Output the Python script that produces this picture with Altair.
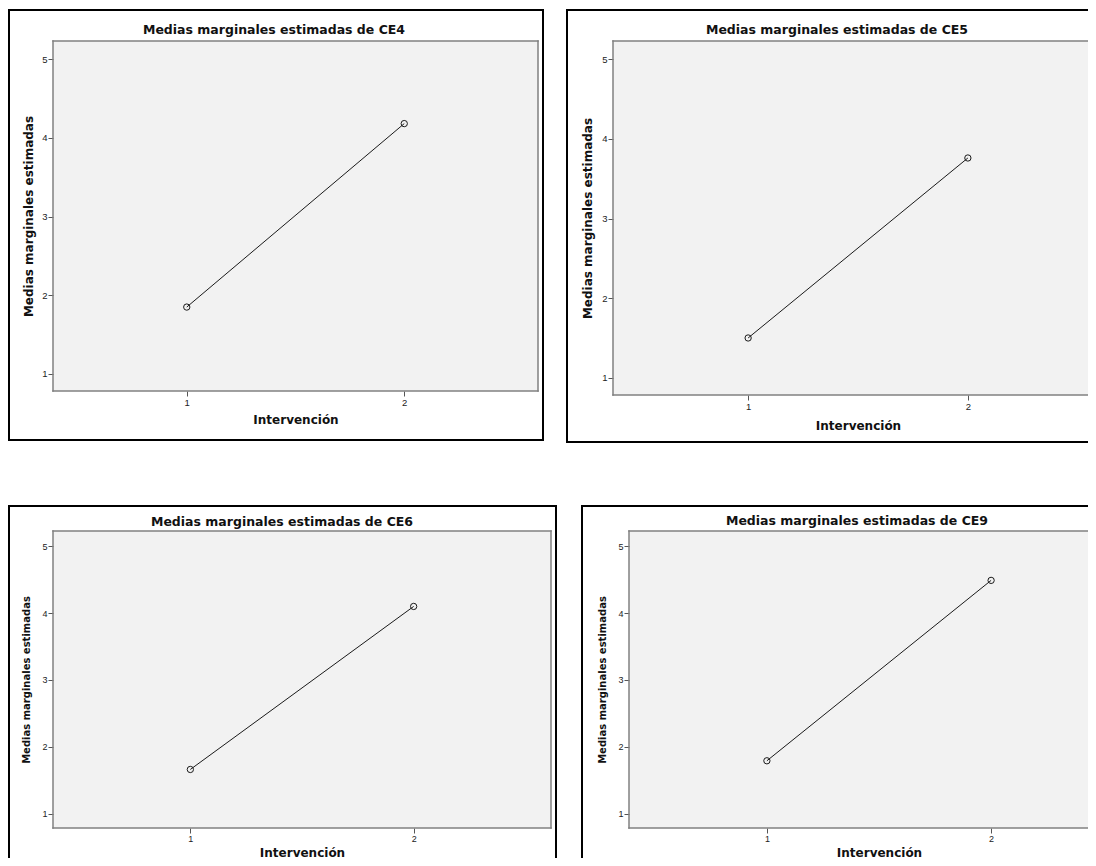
import altair as alt
import pandas as pd

# ---- data ----
variables = ["CE4", "CE5", "CE6", "CE9"]
intervencion = [1, 2]
ce4 = [1.85, 4.18]
ce5 = [1.50, 3.76]
ce6 = [1.66, 4.10]
ce9 = [1.79, 4.49]
y_ticks = [1, 2, 3, 4, 5]
x_ticks = [1, 2]
y_title = "Medias marginales estimadas"
x_title = "Intervención"
title_prefix = "Medias marginales estimadas de "

X_DOMAIN = [0.385, 2.615]
Y_DOMAIN = [0.784, 5.229]
FONT = "DejaVu Sans"
LABEL_FONT = "Liberation Sans"
ONE = pd.DataFrame({"k": [0]})


def hrule(x1, x2, y, color, width):
    return alt.Chart(ONE).mark_rule(color=color, strokeWidth=width, strokeCap="square",
                                    clip=False).encode(
        x=alt.value(x1), x2=alt.value(x2), y=alt.value(y))


def vrule(x, y1, y2, color, width):
    return alt.Chart(ONE).mark_rule(color=color, strokeWidth=width, strokeCap="square",
                                    clip=False).encode(
        x=alt.value(x), y=alt.value(y1), y2=alt.value(y2))


def panel(name, values, w, h, L, T, R, B, title_xy,
          ytitle_size, xtitle_pad, ytitle_pad, label_size):
    df = pd.DataFrame({"Intervención": intervencion, "Media": values})
    base = alt.Chart(df)
    x = alt.X(
        "Intervención:Q",
        scale=alt.Scale(domain=X_DOMAIN, nice=False, zero=False),
        axis=alt.Axis(
            values=x_ticks, format="d", title=x_title, grid=False, domain=False,
            tickSize=5, tickColor="#555555", tickWidth=1,
            labelFont=LABEL_FONT, labelFontSize=label_size, labelColor="#222222",
            labelPadding=1, titleFont=FONT, titleFontSize=12,
            titleFontWeight="bold", titleColor="#111111", titlePadding=xtitle_pad,
        ),
    )
    y = alt.Y(
        "Media:Q",
        scale=alt.Scale(domain=Y_DOMAIN, nice=False, zero=False),
        axis=alt.Axis(
            values=y_ticks, format="d", title=y_title, grid=False, domain=False,
            tickSize=5, tickColor="#555555", tickWidth=1,
            labelFont=LABEL_FONT, labelFontSize=label_size, labelColor="#222222",
            labelPadding=1, titleFont=FONT, titleFontSize=ytitle_size,
            titleFontWeight="bold", titleColor="#111111", titlePadding=ytitle_pad,
        ),
    )
    line = base.mark_line(color="#1a1a1a", strokeWidth=1).encode(x=x, y=y)
    pts = base.mark_point(shape="circle", filled=False, size=40, color="#1a1a1a",
                          strokeWidth=1, opacity=1).encode(x=x, y=y)

    gray, gw = "#808080", 1.5
    layers = [
        # plot-area border
        hrule(0, w, 0, gray, gw),
        hrule(0, w, h, gray, gw),
        vrule(0, 0, h, gray, gw),
        vrule(w, 0, h, gray, gw),
        # panel frame
        hrule(-L, w + R, -T, "black", 2),
        hrule(-L, w + R, h + B, "black", 2),
        vrule(-L, -T, h + B, "black", 2),
        vrule(w + R, -T, h + B, "black", 2),
    ]

    ttl = alt.Chart(ONE).mark_text(
        text=title_prefix + name, font=FONT, fontSize=12.5, fontWeight="bold",
        color="#111111", align="center", baseline="middle", clip=False,
    ).encode(x=alt.value(title_xy[0]), y=alt.value(title_xy[1]))

    return alt.layer(*layers, line, pts, ttl).properties(width=w, height=h)


p1 = panel(variables[0], ce4, 485, 350, 44, 31, 5, 49, (221, -11), 12, 8, 6, 9.5)
p2 = panel(variables[1], ce5, 490, 354, 46, 31, 5, 47, (224, -11.5), 12, 10, 7, 9.5)
p3 = panel(variables[2], ce6, 498, 297, 44, 25, 5, 45, (229, -9.3), 10, 4, 10, 9)
p4 = panel(variables[3], ce9, 500, 297, 47, 25, 5, 45, (228, -10.3), 10, 4, 10, 9)

row1 = alt.hconcat(p1, p2, spacing=20)
row2 = alt.hconcat(p3, p4, spacing=22)

chart = alt.vconcat(row1, row2, spacing=60).properties(
    autosize=alt.AutoSizeParams(type="none"),
    padding={"top": 33, "left": 45, "right": 1035, "bottom": 817},
    background="white",
).configure_view(
    fill="#f2f2f2", stroke="transparent", strokeWidth=0
)

chart.save("out.html", embed_options={"renderer": "svg", "actions": False})
